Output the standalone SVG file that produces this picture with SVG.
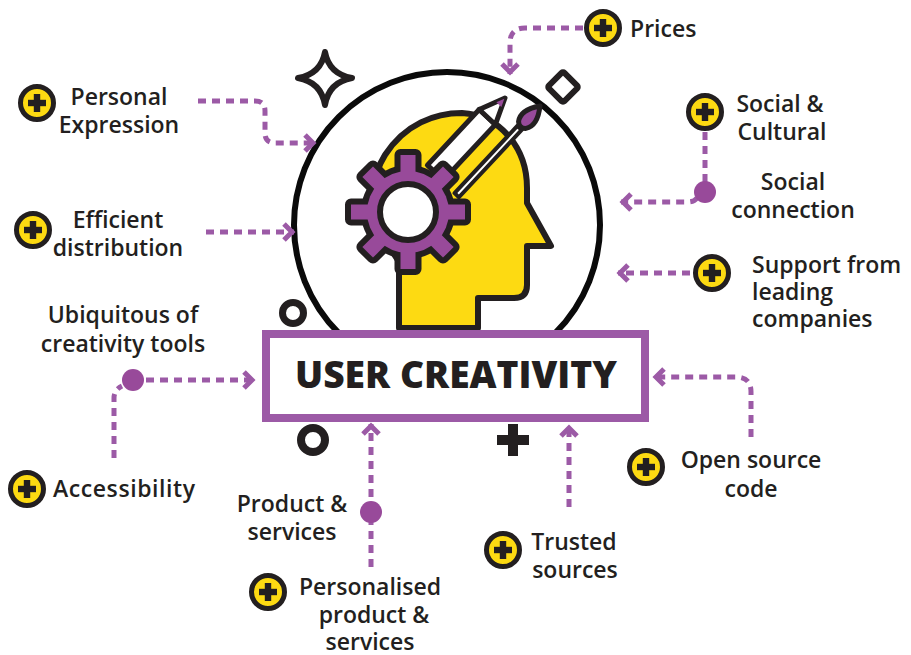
<svg xmlns="http://www.w3.org/2000/svg" xmlns:xlink="http://www.w3.org/1999/xlink" width="911" height="655" viewBox="0 0 911 655">
  <defs>
    <style>
      .lbl { font-family: "Open Sans", "Liberation Sans", sans-serif; font-weight: 600; font-size: 23px; fill: #231F20; }
      .mid { text-anchor: middle; }
      .title { font-family: "Open Sans", "Liberation Sans", sans-serif; font-weight: 800; font-size: 37px; fill: #231F20; text-anchor: middle; }
      .link { fill: none; stroke: #9C5AA6; stroke-width: 5; stroke-dasharray: 8 6; }
      .dot { fill: #984A9A; }
      .ink { stroke: #231F20; stroke-linejoin: round; stroke-linecap: round; }
    </style>
    <marker id="chev" markerUnits="userSpaceOnUse" viewBox="-14 -12 16 24" markerWidth="16" markerHeight="24" refX="0" refY="0" orient="auto">
      <path d="M -10 -8 L -2 0 L -10 8" fill="none" stroke="#9C5AA6" stroke-width="5" stroke-linejoin="miter"/>
    </marker>
    <g id="plus">
      <circle r="16.5" fill="#FDDA12" stroke="#231F20" stroke-width="5"/>
      <rect x="-9" y="-3.2" width="18" height="6.4" fill="#231F20"/>
      <rect x="-3.2" y="-9" width="6.4" height="18" fill="#231F20"/>
    </g>
  </defs>

  <rect width="911" height="655" fill="#FFFFFF"/>

  <!-- decorations -->
  <g id="decor" class="ink" fill="#FFFFFF" stroke-width="6">
    <path d="M 325 52 Q 329 74 352 78 Q 329 82 325 105 Q 321 82 298 78 Q 321 74 325 52 Z"/>
    <rect x="552" y="76" width="22" height="22" rx="2" transform="rotate(45 563 87)"/>
    <circle cx="293" cy="313" r="10.5" stroke-width="7"/>
    <circle cx="313" cy="440" r="12" stroke-width="8"/>
    <path d="M 497 440 H 529 M 513 424 V 456" stroke-width="10" stroke-linecap="butt"/>
  </g>

  <!-- central figure -->
  <g id="head-figure">
    <circle cx="447" cy="225" r="153" fill="#FFFFFF" stroke="#0A0A0A" stroke-width="6"/>
    <path class="ink" d="M 399 328 V 262 L 385 240 C 372 210 370 178 385 155 C 405 124 435 113 462 113 C 500 115 527 148 527 188 L 527 203 L 551 246 L 527 246 V 285 Q 527 298 514 298 H 478 V 328 Z" fill="#FDDA12" stroke-width="6"/>
    <!-- pencil and brush -->
    <g transform="translate(505 98) rotate(-47)" class="ink" stroke-width="5">
      <rect x="-102" y="-11" width="76" height="22" fill="#FFFFFF"/>
      <path d="M 0 0 L -26 -11 L -26 11 Z" fill="#FFFFFF"/>
      <path d="M -1 0 L -9 -3.4 L -9 3.4 Z" fill="#984A9A" stroke="none"/>
      <rect x="-104" y="28" width="92" height="6" fill="#FFFFFF" stroke-width="4"/>
      <path d="M 18 31 Q 2 19 -8 26 Q -13 31 -8 36 Q 2 43 18 31 Z" fill="#984A9A"/>
    </g>
    <!-- gear -->
    <g transform="translate(408 212)">
      <g fill="#231F20" stroke="#231F20" stroke-width="12" stroke-linejoin="round">
        <circle r="41"/>
        <rect x="-7.5" y="-57" width="15" height="57"/>
        <rect x="-7.5" y="-57" width="15" height="57" transform="rotate(45)"/>
        <rect x="-7.5" y="-57" width="15" height="57" transform="rotate(90)"/>
        <rect x="-7.5" y="-57" width="15" height="57" transform="rotate(135)"/>
        <rect x="-7.5" y="-57" width="15" height="57" transform="rotate(180)"/>
        <rect x="-7.5" y="-57" width="15" height="57" transform="rotate(225)"/>
        <rect x="-7.5" y="-57" width="15" height="57" transform="rotate(270)"/>
        <rect x="-7.5" y="-57" width="15" height="57" transform="rotate(315)"/>
      </g>
      <g fill="#984A9A">
        <circle r="41"/>
        <rect x="-7.5" y="-57" width="15" height="57"/>
        <rect x="-7.5" y="-57" width="15" height="57" transform="rotate(45)"/>
        <rect x="-7.5" y="-57" width="15" height="57" transform="rotate(90)"/>
        <rect x="-7.5" y="-57" width="15" height="57" transform="rotate(135)"/>
        <rect x="-7.5" y="-57" width="15" height="57" transform="rotate(180)"/>
        <rect x="-7.5" y="-57" width="15" height="57" transform="rotate(225)"/>
        <rect x="-7.5" y="-57" width="15" height="57" transform="rotate(270)"/>
        <rect x="-7.5" y="-57" width="15" height="57" transform="rotate(315)"/>
      </g>
      <circle r="28" fill="#FFFFFF" stroke="#231F20" stroke-width="6"/>
    </g>
  </g>

  <!-- title box -->
  <g id="user-creativity">
    <rect x="266" y="334" width="379" height="84" fill="#FFFFFF" stroke="#9C5AA6" stroke-width="8"/>
    <text class="title" x="456" y="388" textLength="322" lengthAdjust="spacingAndGlyphs">USER CREATIVITY</text>
  </g>

  <!-- connectors -->
  <g id="connectors">
    <path class="link" d="M 198 101 H 255 Q 265 101 265 111 V 133 Q 265 143 275 143 H 315" marker-end="url(#chev)"/>
    <path class="link" d="M 206 232 H 294" marker-end="url(#chev)"/>
    <path class="link" d="M 583 28 H 525 Q 510 28 510 43 V 74" marker-end="url(#chev)"/>
    <path class="link" d="M 705 132 V 182"/>
    <path class="link" d="M 697 198 Q 694 202 688 202 H 621" marker-end="url(#chev)"/>
    <path class="link" d="M 690 273 H 618" marker-end="url(#chev)"/>
    <path class="link" d="M 146 380 H 254" marker-end="url(#chev)"/>
    <path class="link" d="M 114 458 V 398 Q 114 390 122 386"/>
    <path class="link" d="M 371 567 V 424" marker-end="url(#chev)"/>
    <path class="link" d="M 569 507 V 426" marker-end="url(#chev)"/>
    <path class="link" d="M 751 437 V 392 Q 751 377 736 377 H 654" marker-end="url(#chev)"/>
    <circle class="dot" cx="705" cy="192" r="11"/>
    <circle class="dot" cx="133" cy="380" r="11"/>
    <circle class="dot" cx="371" cy="512" r="11"/>
  </g>

  <!-- factor nodes -->
  <g id="personal-expression">
    <use xlink:href="#plus" x="37" y="103"/>
    <text class="lbl mid" x="119" y="105">Personal</text>
    <text class="lbl mid" x="119" y="133">Expression</text>
  </g>
  <g id="efficient-distribution">
    <use xlink:href="#plus" x="33" y="230"/>
    <text class="lbl mid" x="118" y="228">Efficient</text>
    <text class="lbl mid" x="118" y="256">distribution</text>
  </g>
  <g id="prices">
    <use xlink:href="#plus" x="603" y="28"/>
    <text class="lbl" x="630" y="37">Prices</text>
  </g>
  <g id="social-cultural">
    <use xlink:href="#plus" x="705" y="112"/>
    <text class="lbl mid" x="780" y="112">Social &amp;</text>
    <text class="lbl mid" x="782" y="140">Cultural</text>
  </g>
  <g id="social-connection">
    <text class="lbl mid" x="793" y="190">Social</text>
    <text class="lbl mid" x="793" y="218">connection</text>
  </g>
  <g id="support">
    <use xlink:href="#plus" x="712" y="273"/>
    <text class="lbl" x="752" y="273">Support from</text>
    <text class="lbl" x="752" y="300">leading</text>
    <text class="lbl" x="752" y="327">companies</text>
  </g>
  <g id="ubiquitous">
    <text class="lbl mid" x="123" y="323">Ubiquitous of</text>
    <text class="lbl mid" x="123" y="352">creativity tools</text>
  </g>
  <g id="accessibility">
    <use xlink:href="#plus" x="27" y="489"/>
    <text class="lbl" x="53" y="497" textLength="142" lengthAdjust="spacing">Accessibility</text>
  </g>
  <g id="product-services">
    <text class="lbl mid" x="292" y="512">Product &amp;</text>
    <text class="lbl mid" x="292" y="540">services</text>
  </g>
  <g id="personalised">
    <use xlink:href="#plus" x="268" y="592"/>
    <text class="lbl mid" x="370" y="595">Personalised</text>
    <text class="lbl mid" x="374" y="623">product &amp;</text>
    <text class="lbl mid" x="370" y="650">services</text>
  </g>
  <g id="trusted-sources">
    <use xlink:href="#plus" x="503" y="550"/>
    <text class="lbl mid" x="574" y="550">Trusted</text>
    <text class="lbl mid" x="575" y="578">sources</text>
  </g>
  <g id="open-source">
    <use xlink:href="#plus" x="646" y="467"/>
    <text class="lbl mid" x="751" y="468">Open source</text>
    <text class="lbl mid" x="751" y="497">code</text>
  </g>
</svg>
